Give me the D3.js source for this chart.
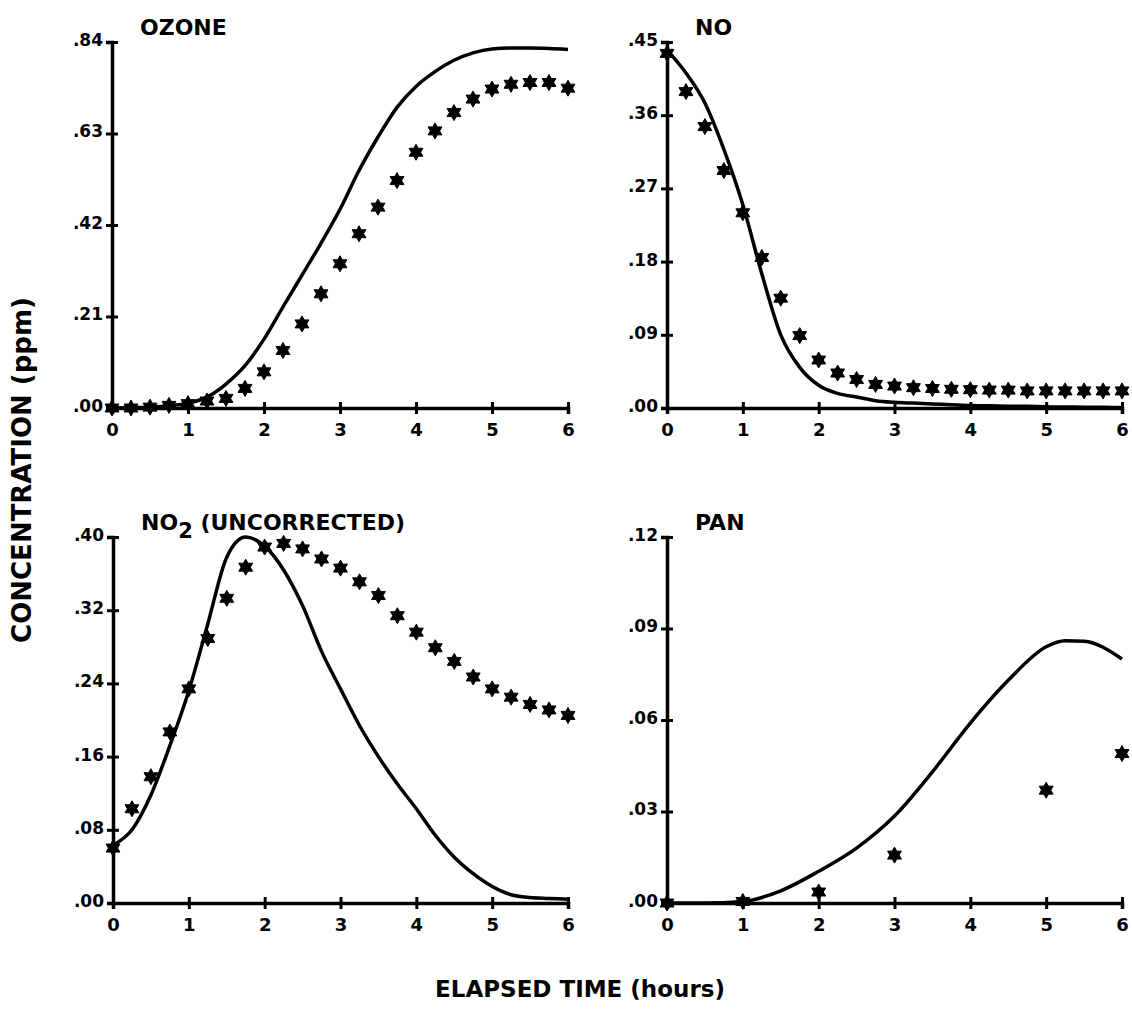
<!DOCTYPE html>
<html>
<head>
<meta charset="utf-8">
<script src="https://cdn.jsdelivr.net/npm/d3@7"></script>
<style>
  html, body { margin: 0; background: #fff; }
  text { font-family: "DejaVu Sans", "Liberation Sans", sans-serif; font-weight: bold; fill: #000; }
</style>
</head>
<body>
<svg id="chart" width="1132" height="1009"></svg>
<script>
// Elapsed time (hours) of the quarter-hourly samples
const quarterHours = [0, 0.25, 0.5, 0.75, 1, 1.25, 1.5, 1.75, 2, 2.25, 2.5, 2.75, 3,
                      3.25, 3.5, 3.75, 4, 4.25, 4.5, 4.75, 5, 5.25, 5.5, 5.75, 6];

// OZONE (ppm): measured (stars) and simulated (line)
const ozoneObs = [0, 0, 0.002, 0.006, 0.01, 0.016, 0.022, 0.045, 0.083, 0.132, 0.193, 0.262, 0.331,
                  0.4, 0.461, 0.522, 0.587, 0.636, 0.678, 0.709, 0.732, 0.743, 0.747, 0.747, 0.734];
const ozoneModel = [0, 0.001, 0.002, 0.005, 0.011, 0.025, 0.055, 0.097, 0.158, 0.232, 0.305, 0.378, 0.456,
                    0.545, 0.622, 0.69, 0.738, 0.772, 0.798, 0.815, 0.824, 0.826, 0.826, 0.825, 0.823];

// NO (ppm)
const noObs = [0.436, 0.389, 0.346, 0.292, 0.24, 0.185, 0.135, 0.089, 0.059, 0.043, 0.035, 0.029, 0.027,
               0.025, 0.024, 0.023, 0.0225, 0.022, 0.022, 0.021, 0.021, 0.021, 0.021, 0.021, 0.021];
const noModel = [0.44, 0.412, 0.375, 0.318, 0.25, 0.165, 0.09, 0.05, 0.028, 0.018, 0.0135, 0.009, 0.007,
                 0.006, 0.005, 0.004, 0.003, 0.0027, 0.0023, 0.002, 0.0015, 0.0012, 0.001, 0.0008, 0.0005];

// NO2 (uncorrected, ppm)
const no2Obs = [0.06, 0.103, 0.138, 0.187, 0.234, 0.289, 0.333, 0.367, 0.389, 0.393, 0.387, 0.376, 0.366,
                0.351, 0.336, 0.314, 0.296, 0.279, 0.264, 0.247, 0.234, 0.225, 0.217, 0.211, 0.205];
const no2Model = [0.063, 0.08, 0.118, 0.172, 0.232, 0.305, 0.378, 0.4, 0.39, 0.364, 0.325, 0.275, 0.234,
                  0.194, 0.16, 0.13, 0.103, 0.074, 0.05, 0.032, 0.018, 0.009, 0.006, 0.005, 0.004];

// PAN (ppm)
const panModelHours = [0, 0.5, 1, 1.5, 2, 2.5, 3, 3.5, 4, 4.5, 5, 5.25, 5.5, 6];
const panModel = [0, 0, 0.0005, 0.004, 0.0104, 0.018, 0.0285, 0.043, 0.059, 0.073, 0.084, 0.086, 0.0858, 0.08];
const panObsHours = [0, 1, 2, 3, 5, 6];
const panObs = [0, 0.0005, 0.0036, 0.0157, 0.037, 0.049];

// Axis tick values
const hourTicks = [0, 1, 2, 3, 4, 5, 6];
const ozoneTicks = [0, 0.21, 0.42, 0.63, 0.84];
const noTicks = [0, 0.09, 0.18, 0.27, 0.36, 0.45];
const no2Ticks = [0, 0.08, 0.16, 0.24, 0.32, 0.40];
const panTicks = [0, 0.03, 0.06, 0.09, 0.12];

const zip = (xs, ys) => xs.map((x, i) => ({ t: x, v: ys[i] }));

const panels = [
  { title: "OZONE", left: 112, right: 568, top: 42, bottom: 408, ticks: ozoneTicks,
    model: zip(quarterHours, ozoneModel), obs: zip(quarterHours, ozoneObs) },
  { title: "NO", left: 667, right: 1122, top: 42, bottom: 408, ticks: noTicks,
    model: zip(quarterHours, noModel), obs: zip(quarterHours, noObs) },
  { title: "NO2", left: 113, right: 568, top: 537, bottom: 903, ticks: no2Ticks,
    model: zip(quarterHours, no2Model), obs: zip(quarterHours, no2Obs) },
  { title: "PAN", left: 667, right: 1122, top: 537, bottom: 903, ticks: panTicks,
    model: zip(panModelHours, panModel), obs: zip(panObsHours, panObs) }
];

const svg = d3.select("#chart");
const fmtConc = d => d3.format(".2f")(d).replace(/^0/, "");

// six-pointed star used for measured values
function starPath(ro, ri) {
  const p = d3.path();
  for (let k = 0; k < 12; k++) {
    const a = -Math.PI / 2 + k * Math.PI / 6;
    const r = k % 2 ? ri : ro;
    const px = r * Math.cos(a), py = r * Math.sin(a);
    if (k === 0) p.moveTo(px, py); else p.lineTo(px, py);
  }
  p.closePath();
  return p.toString();
}
const star = starPath(8, 4.6);

panels.forEach(P => {
  const x = d3.scaleLinear().domain([0, 6]).range([P.left, P.right]);
  const y = d3.scaleLinear().domain([0, d3.max(P.ticks)]).range([P.bottom, P.top]);
  const g = svg.append("g");

  // x axis with ticks crossing the line
  const gx = g.append("g")
    .attr("transform", `translate(0,${P.bottom})`)
    .call(d3.axisBottom(x).tickValues(hourTicks).tickFormat(d3.format("d"))
      .tickSizeOuter(0).tickSize(6).tickPadding(9));
  gx.selectAll(".tick line").attr("y1", -6).attr("stroke-width", 3);
  gx.selectAll(".tick text").attr("font-size", 18).attr("font-family", "DejaVu Sans").attr("font-weight", "bold");
  gx.select(".domain").attr("stroke-width", 3.5);

  // y axis
  const gy = g.append("g")
    .attr("transform", `translate(${P.left},0)`)
    .call(d3.axisLeft(y).tickValues(P.ticks).tickFormat(fmtConc)
      .tickSizeOuter(0).tickSize(6).tickPadding(3));
  gy.selectAll(".tick line").attr("x1", 6).attr("stroke-width", 3);
  gy.selectAll(".tick text").attr("font-size", 17).attr("font-family", "DejaVu Sans").attr("font-weight", "bold")
    .attr("dy", "0.2em");
  gy.select(".domain").attr("stroke-width", 3.5);

  // simulated curve
  g.append("path")
    .datum(P.model)
    .attr("fill", "none")
    .attr("stroke", "#000")
    .attr("stroke-width", 3.5)
    .attr("stroke-linejoin", "round")
    .attr("d", d3.line().x(d => x(d.t)).y(d => y(d.v)).curve(d3.curveMonotoneX));

  // measured points
  g.selectAll(".obs")
    .data(P.obs)
    .join("path")
    .attr("class", "obs")
    .attr("d", star)
    .attr("fill", "#000")
    .attr("stroke", "#000")
    .attr("stroke-width", 1)
    .attr("stroke-linejoin", "round")
    .attr("transform", d => `translate(${x(d.t)},${y(d.v)})`);

  // panel title
  const title = g.append("text")
    .attr("x", P.left + 28)
    .attr("y", P.top - 7)
    .attr("font-size", 22);
  if (P.title === "NO2") {
    title.append("tspan").text("NO");
    title.append("tspan").text("2").attr("dy", 8).attr("font-size", 21);
    title.append("tspan").text(" (UNCORRECTED)").attr("dy", -8);
  } else {
    title.text(P.title);
  }
});

// shared axis titles
svg.append("text")
  .attr("transform", "translate(31,470) rotate(-90)")
  .attr("text-anchor", "middle")
  .attr("font-size", 26)
  .text("CONCENTRATION (ppm)");

svg.append("text")
  .attr("x", 580)
  .attr("y", 997)
  .attr("text-anchor", "middle")
  .attr("font-size", 23)
  .text("ELAPSED TIME (hours)");
</script>
</body>
</html>
